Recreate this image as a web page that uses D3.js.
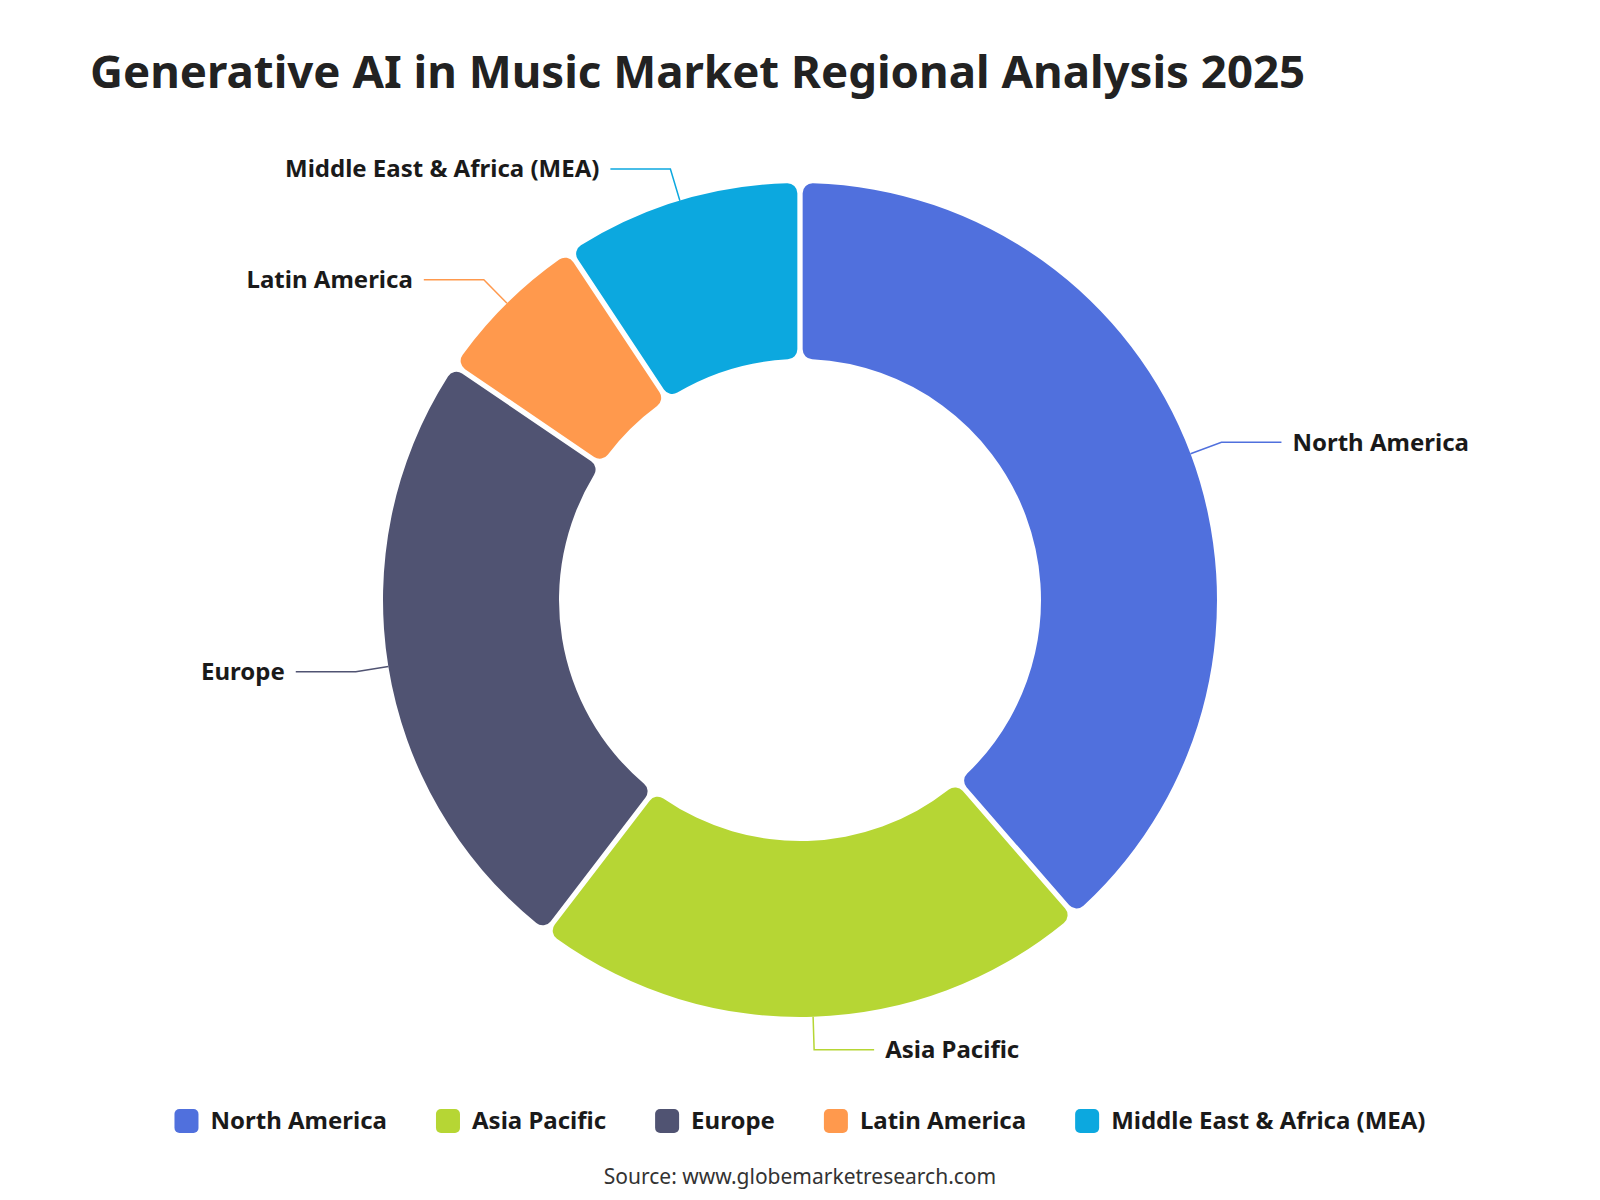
<!DOCTYPE html>
<html>
<head>
<meta charset="utf-8">
<script src="https://cdn.jsdelivr.net/npm/d3@7/dist/d3.min.js"></script>
<style>
  html, body { margin: 0; padding: 0; background: #fff; }
  svg text { font-family: 'Noto Sans', 'Open Sans', sans-serif; }
</style>
</head>
<body>
<div id="chart"></div>
<script>
const title = 'Generative AI in Music Market Regional Analysis 2025';
const regions = ['North America', 'Asia Pacific', 'Europe', 'Latin America', 'Middle East & Africa (MEA)'];
const shares = [38.6, 21.8, 24.1, 6.2, 9.3];
const colors = ['#5070dd', '#b6d634', '#505372', '#ff994d', '#0ca8df'];
const source = 'Source: www.globemarketresearch.com';

const width = 1600, height = 1200;
const cx = 800, cy = 600;
const rInner = 241, rOuter = 417;

const svg = d3
  .select('#chart')
  .append('svg')
  .attr('width', width)
  .attr('height', height);

// title, sized to span the same width as the original
const titleText = svg
  .append('text')
  .attr('x', 90)
  .attr('y', 88)
  .attr('fill', '#222')
  .style('font-weight', 700)
  .style('font-size', '48px')
  .text(title);
let tw = titleText.node().getComputedTextLength();
titleText.style('font-size', (48 * 1215 / tw).toFixed(1) + 'px');

const color = d3.scaleOrdinal().domain(regions).range(colors);

const pie = d3
  .pie()
  .sort(null)
  .value((d) => d.value);

const arcs = pie(regions.map((name, i) => ({ name: name, value: shares[i] })));

const arc = d3
  .arc()
  .innerRadius(rInner)
  .outerRadius(rOuter)
  .cornerRadius(10)
  .padAngle(0.011);

const g = svg.append('g').attr('transform', 'translate(' + cx + ',' + cy + ')');

g.selectAll('.slice')
  .data(arcs)
  .enter()
  .append('path')
  .attr('class', 'slice')
  .attr('d', arc)
  .attr('fill', (d) => color(d.data.name));

// leader lines + labels
const len1 = 33, len2 = 60, gap = 11;
const labelPts = arcs.map((d) => {
  const mid = (d.startAngle + d.endAngle) / 2;
  const sx = Math.sin(mid), sy = -Math.cos(mid);
  const p1 = [sx * rOuter, sy * rOuter];
  const p2 = [sx * (rOuter + len1), sy * (rOuter + len1)];
  const dir = sx >= 0 ? 1 : -1;
  const p3 = [p2[0] + dir * len2, p2[1]];
  return { d: d, pts: [p1, p2, p3], dir: dir };
});

g.selectAll('.label-line')
  .data(labelPts)
  .enter()
  .append('polyline')
  .attr('class', 'label-line')
  .attr('points', (l) => l.pts.map((p) => p.join(',')).join(' '))
  .attr('fill', 'none')
  .attr('stroke', (l) => color(l.d.data.name))
  .attr('stroke-width', 1.5);

g.selectAll('.label')
  .data(labelPts)
  .enter()
  .append('text')
  .attr('class', 'label')
  .attr('x', (l) => l.pts[2][0] + l.dir * gap)
  .attr('y', (l) => l.pts[2][1])
  .attr('dy', '0.35em')
  .attr('text-anchor', (l) => (l.dir > 0 ? 'start' : 'end'))
  .attr('fill', '#1a1a1a')
  .style('font-weight', 700)
  .style('font-size', '24px')
  .text((l) => l.d.data.name);

// legend, centred under the chart
const legend = svg.append('g').attr('class', 'legend');
const sw = 24, swGap = 12, itemGap = 49, legendY = 1121;
const items = legend
  .selectAll('.legend-item')
  .data(regions)
  .enter()
  .append('g')
  .attr('class', 'legend-item');
items
  .append('rect')
  .attr('width', sw)
  .attr('height', sw)
  .attr('rx', 5)
  .attr('y', legendY - sw / 2)
  .attr('fill', (d) => color(d));
items
  .append('text')
  .attr('x', sw + swGap)
  .attr('y', legendY)
  .attr('dy', '0.35em')
  .attr('fill', '#1a1a1a')
  .style('font-weight', 700)
  .style('font-size', '24px')
  .text((d) => d);

let offsets = [], total = 0;
items.each(function () {
  const w = sw + swGap + d3.select(this).select('text').node().getComputedTextLength();
  offsets.push(total);
  total += w + itemGap;
});
total -= itemGap;
const startX = width / 2 - total / 2;
items.attr('transform', (d, i) => 'translate(' + (startX + offsets[i]) + ',0)');

svg
  .append('text')
  .attr('x', width / 2)
  .attr('y', 1177)
  .attr('dy', '0.35em')
  .attr('text-anchor', 'middle')
  .attr('fill', '#333')
  .style('font-size', '21px')
  .text(source);
</script>
</body>
</html>
